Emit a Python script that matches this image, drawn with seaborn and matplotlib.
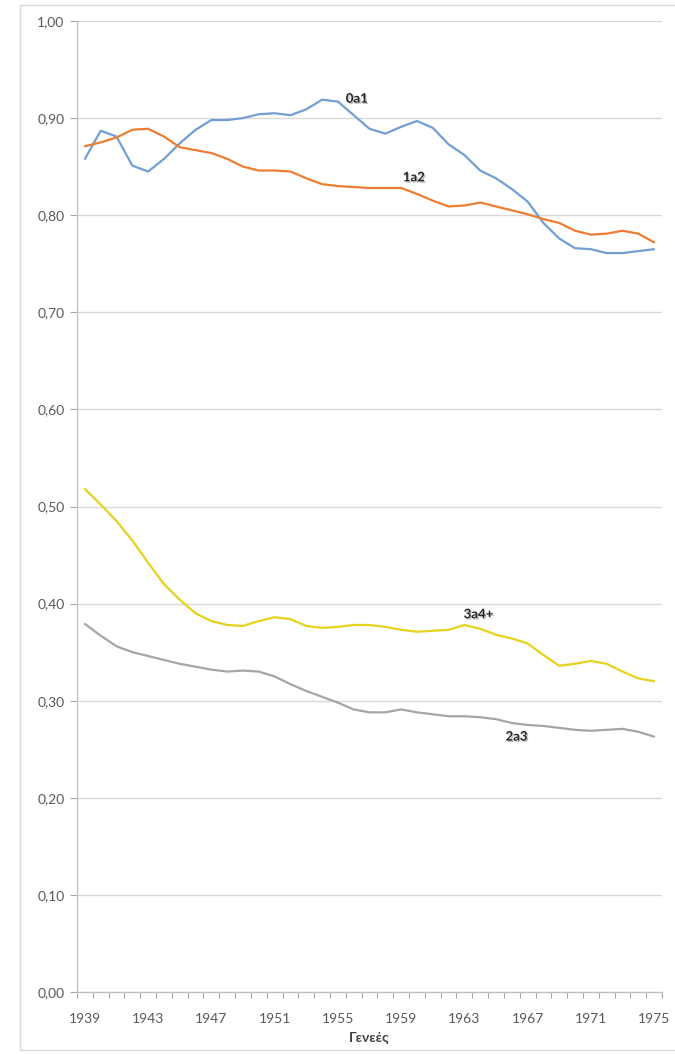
import numpy as np
import pandas as pd
import matplotlib
matplotlib.use("Agg")
import matplotlib.pyplot as plt
from matplotlib.patches import Rectangle
import matplotlib.patheffects as pe
import seaborn as sns

years = list(range(1939, 1976))

s_0a1 = [0.858, 0.887, 0.881, 0.851, 0.845, 0.858, 0.874, 0.888, 0.898, 0.898,
         0.900, 0.904, 0.905, 0.903, 0.909, 0.919, 0.917, 0.903, 0.889, 0.884,
         0.891, 0.897, 0.890, 0.873, 0.862, 0.846, 0.838, 0.827, 0.814, 0.792,
         0.776, 0.766, 0.765, 0.761, 0.761, 0.763, 0.765]
s_1a2 = [0.871, 0.875, 0.880, 0.888, 0.889, 0.881, 0.870, 0.867, 0.864, 0.858,
         0.850, 0.846, 0.846, 0.845, 0.838, 0.832, 0.830, 0.829, 0.828, 0.828,
         0.828, 0.822, 0.815, 0.809, 0.810, 0.813, 0.809, 0.805, 0.801, 0.796,
         0.792, 0.784, 0.780, 0.781, 0.784, 0.781, 0.772]
s_2a3 = [0.379, 0.367, 0.356, 0.350, 0.346, 0.342, 0.338, 0.335, 0.332, 0.330,
         0.331, 0.330, 0.325, 0.317, 0.310, 0.304, 0.298, 0.291, 0.288, 0.288,
         0.291, 0.288, 0.286, 0.284, 0.284, 0.283, 0.281, 0.277, 0.275, 0.274,
         0.272, 0.270, 0.269, 0.270, 0.271, 0.268, 0.263]
s_3a4 = [0.518, 0.502, 0.485, 0.465, 0.442, 0.420, 0.404, 0.390, 0.382, 0.378,
         0.377, 0.382, 0.386, 0.384, 0.377, 0.375, 0.376, 0.378, 0.378, 0.376,
         0.373, 0.371, 0.372, 0.373, 0.378, 0.374, 0.368, 0.364, 0.359, 0.347,
         0.336, 0.338, 0.341, 0.338, 0.330, 0.323, 0.320]

series_names = ["0a1", "1a2", "2a3", "3a4+"]
series_colors = ["#729FD3", "#ED7D31", "#A5A5A5", "#E6D21E"]
x_tick_labels = [str(y) for y in range(1939, 1976, 4)]
y_ticks = [i / 10 for i in range(0, 11)]
x_title = "Γενεές"

df = pd.DataFrame({
    "year": years * 4,
    "value": s_0a1 + s_1a2 + s_2a3 + s_3a4,
    "series": sum([[n] * len(years) for n in series_names], []),
})

sns.set_theme(style="white")
plt.rcParams["font.family"] = ["Lato", "DejaVu Sans"]

fig = plt.figure(figsize=(6.75, 10.54), dpi=100)
ax = fig.add_axes([77 / 675, 1 - 992 / 1054, (662 - 77) / 675, (992 - 21) / 1054])

# outer chart border
fig.patches.append(Rectangle((20 / 675, 1 - 1050 / 1054), 1.2, 1045 / 1054,
                             transform=fig.transFigure, fill=False,
                             edgecolor="#d9d9d9", linewidth=1.0))

sns.lineplot(data=df, x="year", y="value", hue="series", hue_order=series_names,
             palette=dict(zip(series_names, series_colors)), linewidth=1.6,
             legend=False, ax=ax, zorder=3)

ax.set_xlim(1938.5, 1975.5)
ax.set_ylim(0, 1.0)
ax.set_yticks(y_ticks)
ax.set_yticklabels([f"{v:.2f}".replace(".", ",") for v in y_ticks],
                   fontsize=10, color="#595959")
ax.set_xticks([int(s) for s in x_tick_labels])
ax.set_xticklabels(x_tick_labels, fontsize=10, color="#595959")
ax.set_xticks(np.arange(1938.5, 1976, 1.0), minor=True)
ax.tick_params(axis="x", which="major", length=0, pad=15)
ax.tick_params(axis="x", which="minor", length=4, color="#a6a6a6", width=0.8,
               direction="out", bottom=True)
ax.tick_params(axis="y", which="major", length=5, color="#a6a6a6", width=0.8,
               direction="out", left=True, pad=4)
ax.grid(axis="y", color="#d9d9d9", linewidth=1.0, zorder=0)
ax.grid(axis="x", visible=False)
for side in ["top", "right"]:
    ax.spines[side].set_visible(False)
for side in ["left", "bottom"]:
    ax.spines[side].set_color("#bfbfbf")
    ax.spines[side].set_linewidth(0.9)
ax.set_ylabel("")
ax.set_xlabel(x_title, fontsize=10, fontweight="bold", color="#404040", labelpad=5)

label_pos = {"0a1": (1956.2, 0.920), "1a2": (1959.8, 0.839),
             "3a4+": (1963.9, 0.389), "2a3": (1966.3, 0.263)}
for name, (lx, ly) in label_pos.items():
    ax.text(lx, ly, name, ha="center", va="center", fontsize=9.5,
            fontweight="bold", color="#262626", zorder=5,
            path_effects=[pe.SimplePatchShadow(offset=(1, -1), alpha=0.25),
                          pe.Normal()])

fig.savefig("out.png", dpi=100)
